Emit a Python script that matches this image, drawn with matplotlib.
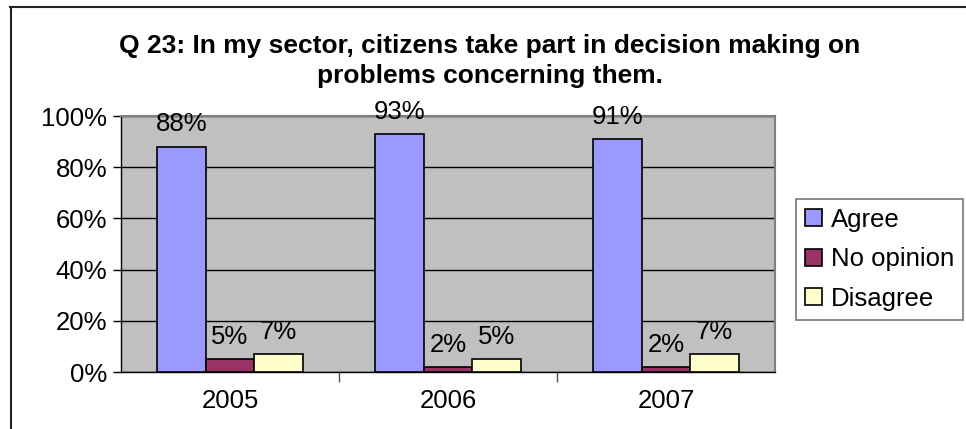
import matplotlib.pyplot as plt
import numpy as np
from matplotlib.lines import Line2D

plt.rcParams['font.family'] = ['Liberation Sans', 'DejaVu Sans']

# data
years = ['2005', '2006', '2007']
series = ['Agree', 'No opinion', 'Disagree']
agree = [88, 93, 91]
no_opinion = [5, 2, 2]
disagree = [7, 5, 7]
colors = ['#9999FF', '#993366', '#FFFFCC']
title = 'Q 23: In my sector, citizens take part in decision making on\nproblems concerning them.'

W, H = 966, 429
FS = 18.5
fig = plt.figure(figsize=(W / 100, H / 100), dpi=100)
ax = fig.add_axes([121 / W, 1 - 372 / H, (775 - 121) / W, (372 - 116) / H])
ax.set_facecolor('#C0C0C0')

x = np.arange(len(years))
bw = 0.222
for i, (vals, name, c) in enumerate(zip([agree, no_opinion, disagree], series, colors)):
    pos = x + (i - 1) * bw
    ax.bar(pos, vals, bw, color=c, edgecolor='black', linewidth=1.2, label=name, zorder=3)
    for p, v in zip(pos, vals):
        ax.annotate(f'{v}%', (p, v), xytext=(0, 11), textcoords='offset points',
                    ha='center', va='baseline', fontsize=FS, zorder=4)

ax.set_xlim(-0.5, 2.5)
ax.set_ylim(0, 100)
ax.set_yticks(range(0, 101, 20))
ax.set_yticklabels([f'{t}%' for t in range(0, 101, 20)], fontsize=FS)
ax.yaxis.grid(True, color='black', linewidth=1, zorder=1)
ax.set_xticks(x)
ax.set_xticklabels(years, fontsize=FS)
ax.tick_params(axis='x', length=0, pad=12)
ax.tick_params(axis='y', length=6, width=1, pad=4, direction='out')
ax.set_xticks([0.5, 1.5], minor=True)
ax.tick_params(axis='x', which='minor', length=7, width=1, direction='out', color='#555555')
for s in ['top', 'right']:
    ax.spines[s].set_color('#808080')
    ax.spines[s].set_linewidth(1.5)
for s in ['left', 'bottom']:
    ax.spines[s].set_color('black')
    ax.spines[s].set_linewidth(1)

fig.text(490 / W, 1 - 61 / H, title, ha='center', va='center', fontsize=19,
         fontweight='bold', linespacing=1.32)

leg = fig.legend(loc='upper left', bbox_to_anchor=(796 / W, 1 - 203 / H, (963 - 796) / W, 0.01),
                 mode='expand', fontsize=FS, frameon=True, fancybox=False,
                 edgecolor='#555555', handlelength=0.65, handleheight=0.65,
                 handletextpad=0.35, labelspacing=0.6, borderpad=0.35, borderaxespad=0)
leg.get_frame().set_linewidth(1.2)

# outer chart border
fig.add_artist(Line2D([10 / W, 1], [1 - 7 / H, 1 - 7 / H], color='#222222', linewidth=1.5,
                      transform=fig.transFigure))
fig.add_artist(Line2D([10.5 / W, 10.5 / W], [0, 1 - 7 / H], color='#222222', linewidth=1.5,
                      transform=fig.transFigure))

fig.savefig('out.png', dpi=100)
